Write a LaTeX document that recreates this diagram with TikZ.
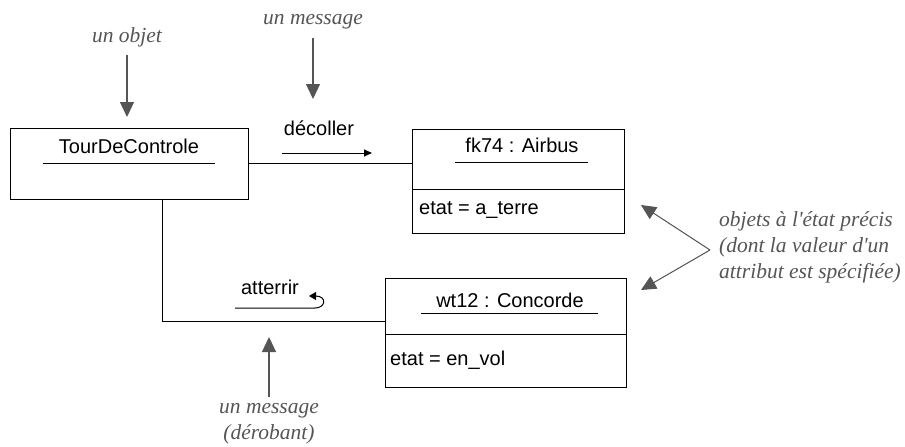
\documentclass[tikz,border=0pt]{standalone}
\usepackage{fontspec}
\setmainfont{Liberation Sans}
\newfontfamily\notefont{Liberation Serif}
\usetikzlibrary{arrows.meta}

\definecolor{notegray}{HTML}{555555}

\tikzset{
  objbox/.style={draw,line width=1pt,inner sep=0pt,anchor=north west},
  titre/.style={font=\fontsize{20}{22}\selectfont,inner sep=0pt},
  attr/.style={font=\fontsize{20}{22}\selectfont,inner sep=0pt,anchor=west},
  note/.style={font=\notefont\itshape\fontsize{21.5}{26}\selectfont,text=notegray,inner sep=0pt},
  notearrow/.style={draw=notegray,line width=1.3pt,-{Triangle[width=14pt,length=15pt]},fill=notegray},
  msgarrow/.style={line width=1pt,-{Triangle[width=7pt,length=8pt]}}
}

\begin{document}
\begin{tikzpicture}[x=1pt,y=-1pt]
\useasboundingbox (0,0) rectangle (905,447);
% objets
\node[objbox,minimum width=238pt,minimum height=71pt] (tour) at (10,128) {};
\node[objbox,minimum width=212pt,minimum height=104pt] (airbus) at (412,129) {};
\node[objbox,minimum width=241pt,minimum height=109pt] (concorde) at (385,278) {};
\draw[line width=1pt] (412,189) -- (624,189);
\draw[line width=1pt] (385,334) -- (626,334);
\node[titre] (tourname) at (129,146) {TourDeControle};
\draw[line width=1pt] (43,163) -- (215,163);
\node[titre] (airbusname) at (522,145) {fk74 : Airbus};
\draw[line width=1pt] (455,162) -- (588,162);
\node[titre] (concordename) at (510,300) {wt12 : Concorde};
\draw[line width=1pt] (421,313) -- (598,313);
\node[attr] (airbusetat) at (419,210) {etat = a\_terre};
\node[attr] (concordeetat) at (390,360) {etat = en\_vol};

% liens
\coordinate (coude) at (162,321);
\draw[line width=1pt] (tour.east |- 0,163) -- (airbus.west |- 0,163);
\draw[line width=1pt] (tour.south -| coude) -- (coude) -- (concorde.west |- coude);

% messages
\node[titre] (decoller) at (319,128) {décoller};
\draw[msgarrow] (282,153) -- (372,153);
\node[titre] (atterrir) at (270,287) {atterrir};
\draw[line width=1pt,-{Triangle[width=8pt,length=7pt]}] (235,308) -- (315,308)
  .. controls (326,308) and (327,296) .. (309,296);

% notes
\node[note] (unobjet) at (127,37) {un objet};
\draw[notearrow] (127,55) -- (127,117);
\node[note] (unmessage) at (313,22) {un message};
\draw[notearrow] (313,38) -- (313,99);
\node[note,align=center] (derobant) at (269,424) {un message\\(dérobant)};
\draw[notearrow] (269,397) -- (269,337);
\node[note,anchor=west,align=left] (precis) at (719,247) {objets à l'état précis\\(dont la valeur d'un\\attribut est spécifiée)};
\coordinate (pointe) at (710,250);
\draw[notearrow,line width=1pt] (pointe) -- (641,205);
\draw[notearrow,line width=1pt] (pointe) -- (641,290);
\end{tikzpicture}
\end{document}
